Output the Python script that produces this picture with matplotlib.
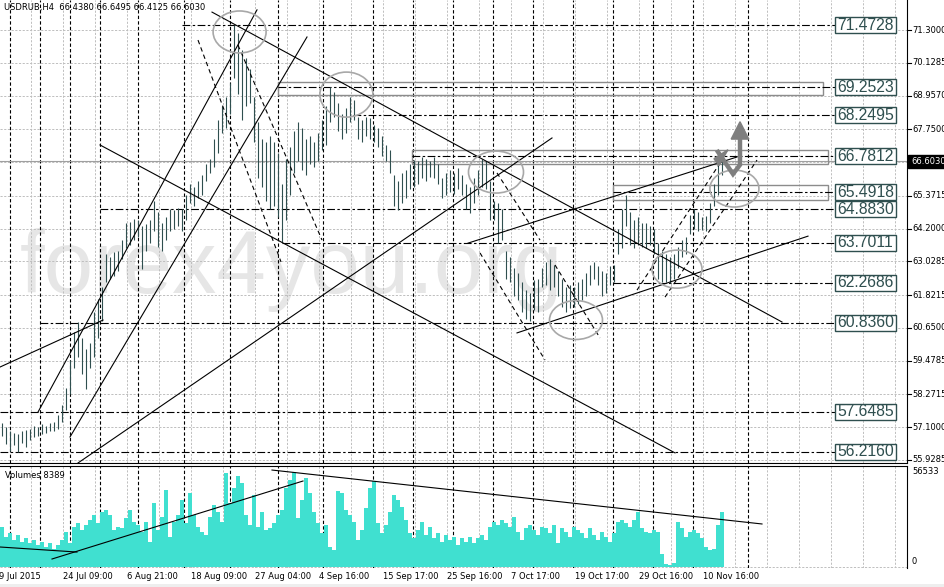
import matplotlib
matplotlib.use('Agg')
import matplotlib.pyplot as plt
from matplotlib.patches import Rectangle, Ellipse, Polygon
from matplotlib import font_manager
import matplotlib.transforms as mtransforms

# ---------------- data (bar index -> high / low / volume) ----------------
highs = [57.25, 57.10, 56.95, 56.90, 56.85, 56.95, 57.00, 57.05, 57.15, 57.10,
         57.20, 57.15, 57.25, 57.30, 57.55, 57.90, 58.50, 59.50, 60.50, 60.85,
         60.30, 59.90, 60.10, 61.20, 61.70, 62.10, 63.30, 63.20, 63.35, 63.40,
         63.80, 64.40, 64.45, 64.55, 64.50, 64.30, 64.35, 64.50, 65.20, 64.80,
         64.40, 64.60, 64.90, 64.85, 64.95, 64.90, 65.40, 65.80, 65.70, 65.90,
         66.10, 66.50, 66.70, 67.40, 68.10, 68.60, 68.90, 69.40, 71.47, 71.20,
         70.60, 70.30, 69.90, 68.90, 68.00, 67.40, 67.30, 67.50, 67.30, 66.90,
         65.80, 66.70, 67.10, 67.70, 68.00, 67.80, 67.40, 67.50, 67.30, 67.60,
         68.10, 68.60, 69.25, 69.10, 68.70, 68.30, 68.50, 68.90, 68.80, 68.20,
         68.10, 68.20, 68.15, 67.90, 67.80, 67.50, 67.20, 67.00, 66.10, 65.90,
         66.20, 66.30, 66.50, 66.65, 66.60, 66.75, 66.70, 66.60, 66.75, 66.50,
         66.00, 66.20, 66.30, 66.20, 66.35, 66.10, 65.80, 65.70, 66.00, 66.30,
         66.70, 66.60, 65.90, 65.20, 65.10, 64.90, 63.40, 63.20, 62.80, 62.60,
         62.30, 62.00, 61.90, 62.35, 62.40, 62.80, 63.00, 63.10, 62.90, 62.70,
         62.40, 62.10, 62.20, 62.10, 62.30, 62.40, 62.60, 62.90, 63.00, 62.85,
         62.70, 62.60, 62.85, 62.90, 64.20, 64.90, 65.40, 64.80, 64.50, 64.60,
         64.40, 64.40, 64.30, 64.20, 63.70, 63.40, 63.30, 63.20, 63.30, 63.55,
         63.80, 63.90, 64.70, 64.90, 64.80, 64.60, 64.65, 65.10, 65.80, 66.50,
         66.78]
lows = [56.80, 56.50, 56.25, 56.45, 56.22, 56.55, 56.40, 56.65, 56.75, 56.80,
        56.85, 56.90, 56.95, 56.95, 57.05, 57.30, 57.70, 58.30, 59.20, 59.60,
        59.00, 58.45, 59.20, 59.60, 60.30, 60.90, 62.30, 62.40, 62.50, 62.70,
        63.10, 63.50, 63.60, 63.80, 63.90, 62.75, 63.40, 63.70, 64.10, 63.55,
        63.40, 63.80, 64.10, 64.20, 64.30, 64.10, 64.50, 65.10, 65.00, 65.30,
        65.40, 65.90, 66.20, 66.40, 66.90, 67.60, 67.80, 68.30, 69.60, 69.00,
        68.10, 68.60, 68.70, 67.30, 66.00, 65.70, 65.20, 64.90, 65.00, 64.60,
        63.72, 64.50, 65.40, 66.20, 66.60, 66.30, 66.10, 66.50, 66.40, 66.60,
        67.00, 67.20, 68.00, 68.20, 67.70, 67.40, 67.60, 68.00, 68.10, 67.40,
        67.30, 67.50, 67.40, 67.30, 67.10, 66.80, 66.60, 66.20, 65.00, 64.86,
        65.10, 65.30, 65.60, 65.70, 65.80, 66.00, 65.90, 66.05, 66.00, 65.80,
        65.30, 65.40, 65.50, 65.45, 65.60, 65.40, 64.90, 64.75, 65.10, 65.40,
        65.70, 65.60, 64.50, 64.50, 63.70, 63.80, 62.40, 62.30, 61.80, 61.65,
        61.20, 60.95, 60.90, 61.30, 61.20, 62.10, 62.20, 62.00, 62.10, 61.80,
        61.40, 61.20, 61.35, 61.40, 61.50, 61.65, 61.80, 62.20, 62.40, 62.20,
        61.80, 61.90, 62.20, 62.30, 63.30, 63.50, 64.30, 63.60, 63.50, 63.60,
        63.55, 63.50, 63.60, 63.30, 62.40, 62.30, 62.30, 62.27, 62.40, 62.80,
        63.20, 63.30, 64.00, 64.20, 64.10, 64.15, 64.10, 64.40, 65.00, 65.40,
        66.10]
volumes = [24000, 18000, 20000, 16000, 19000, 15000, 17000, 14000, 16000, 13000,
           15000, 12000, 14000, 11000, 13000, 16000, 21000, 14000, 24000, 26000,
           22000, 25000, 28000, 31000, 26000, 33000, 34000, 31000, 22000, 24000,
           23000, 29000, 34000, 27000, 25000, 21000, 27000, 15000, 38000, 22000,
           30000, 46000, 18000, 27000, 31000, 40000, 26000, 44000, 31000, 24000,
           21000, 19000, 30000, 37000, 33000, 27000, 56000, 38000, 47000, 54000,
           50000, 31000, 25000, 43000, 24000, 33000, 22000, 23000, 26000, 31000,
           34000, 47000, 52000, 56533, 29000, 40000, 53000, 44000, 33000, 26000,
           20000, 25000, 12000, 10000, 45000, 44000, 34000, 31000, 27000, 16000,
           22000, 35000, 47000, 51000, 26000, 20000, 25000, 33000, 43000, 40000,
           36000, 28000, 20000, 17000, 22000, 27000, 19000, 24000, 17000, 20000,
           15000, 19000, 16000, 18000, 13000, 17000, 15000, 18000, 14000, 17000,
           19000, 16000, 24000, 27000, 25000, 28000, 26000, 24000, 30000, 21000,
           16000, 23000, 25000, 22000, 19000, 24000, 23000, 20000, 25000, 14000,
           23000, 21000, 18000, 24000, 22000, 20000, 17000, 23000, 19000, 16000,
           21000, 18000, 15000, 20000, 27000, 28000, 26000, 24000, 28000, 33000,
           23000, 21000, 20000, 22000, 21000, 8000, 1500, 1000, 2500, 27000,
           23000, 18000, 21000, 22000, 20000, 17000, 12000, 10000, 11000, 25000,
           33000]

symbol_text = "USDRUB,H4  66.4380 66.6495 66.4125 66.6030"
volume_text = "Volumes 8389"
last_price = 66.6030
vol_max_label = 56533

price_ticks = [71.3000, 70.1285, 68.9570, 67.7500, 66.5785, 65.3715, 64.2000,
               63.0285, 61.8215, 60.6500, 59.4785, 58.2715, 57.1000, 55.9285]

time_labels = ["9 Jul 2015", "24 Jul 09:00", "6 Aug 21:00", "18 Aug 09:00",
               "27 Aug 04:00", "4 Sep 16:00", "15 Sep 17:00", "25 Sep 16:00",
               "7 Oct 17:00", "19 Oct 17:00", "29 Oct 16:00", "10 Nov 16:00"]
time_label_bars = [-0.75, 15.25, 31.25, 47.25, 63.25, 79.25, 95.25, 111.25,
                   127.25, 143.25, 159.25, 175.25]

week_separators = [2, 9.5, 17, 24.5, 34, 45.5, 57, 69, 80.25, 92.75, 102.75,
                   112.75, 122.75, 132.75, 142.75, 152.75, 162.75, 172.75, 186.5]

# horizontal levels: (price, start bar)
levels = [(71.4728, 45), (69.2523, 69), (68.2495, 87.75), (66.7812, 102.5),
          (65.4918, 152.75), (64.8830, 24.5), (63.7011, 70), (62.2686, 152.75),
          (60.8360, 9.5), (57.6485, -0.5), (56.2160, -0.5)]
level_end = 208.25

# zone rectangles: (bar0, bar1, price_low, price_high)
zones = [(69, 205.25, 68.98, 69.44), (102.5, 206.5, 66.51, 67.01),
         (152.75, 206.5, 65.22, 65.76)]

# solid trend lines ((bar, price), (bar, price))
trend_lines = [((-0.5, 59.25), (25.25, 60.93)),
               ((9, 57.64), (63.75, 72.02)),
               ((17, 56.75), (76.25, 71.05)),
               ((19, 55.82), (137.5, 67.44)),
               ((24.5, 67.19), (168.25, 56.18)),
               ((52.5, 71.94), (195, 60.86)),
               ((116.5, 63.68), (183.75, 66.76)),
               ((128.75, 60.47), (201.5, 63.93))]
# dashed trend lines
dashed_lines = [((49, 70.94), (69.75, 63.01)),
                ((59, 70.76), (80, 63.79)),
                ((119.5, 63.33), (135.75, 59.50)),
                ((123.75, 66.19), (134.5, 63.79)),
                ((138.25, 62.90), (149.5, 60.29)),
                ((158.75, 62.00), (180, 66.65)),
                ((165.75, 61.75), (188.75, 66.65))]
# ellipses: (bar center, price center, width bars, height price)
ellipses = [(59.4, 71.23, 13.25, 1.50), (86.1, 68.99, 13.25, 1.61),
            (123.5, 66.22, 13.75, 1.50), (143.5, 60.93, 13.25, 1.39),
            (168.75, 62.75, 12.5, 1.36), (183.1, 65.63, 12.25, 1.32)]
# volume trend lines
vol_lines = [((-0.5, 11900), (18.75, 8900)),
             ((12.5, 4760), (75.25, 51170)),
             ((67.5, 57700), (190, 25600))]
# gray arrow path
arrow_path = [(179, 66.94), (182.75, 66.15), (184.5, 66.48), (184.5, 67.44)]

# ---------------- figure ----------------
W, H = 945, 587
fig = plt.figure(figsize=(W / 100, H / 100), dpi=100)
fig.patch.set_facecolor('white')

PR = 907  # right edge of plot area (px)
ax = fig.add_axes([0, (H - 463) / H, PR / W, 463 / H])
axv = fig.add_axes([0, 19 / H, PR / W, 102 / H])

xlim = (-0.5, (PR - 2) / 4)
ax.set_xlim(*xlim)
ax.set_ylim(71.3 - 433 / 27.97, 71.3 + 30 / 27.97)
axv.set_xlim(*xlim)
axv.set_ylim(-595, 60103)

for a in (ax, axv):
    a.set_xticks([])
    a.set_yticks([])
    for s in ('left', 'top', 'bottom'):
        a.spines[s].set_visible(False)
    a.spines['right'].set_linewidth(0.8)
ax.spines['bottom'].set_visible(True)
ax.spines['bottom'].set_linewidth(0.8)
axv.spines['top'].set_visible(True)
axv.spines['top'].set_linewidth(0.8)

names = {f.name for f in font_manager.fontManager.ttflist}
if 'Liberation Sans Narrow' in names:
    box_font, box_size = 'Liberation Sans Narrow', 13.5
else:
    box_font, box_size = 'Liberation Sans', 11.3

DSG = '#2F4F4F'
GRID = '#BEBEBE'
grid_ls = (0, (2.2, 1.6))
sep_ls = (0, (3.0, 2.0))
dd_ls = (0, (7, 2.2, 2.2, 2.2))

# watermark
ax.text(4.5, 61.9, "forex4you.org", fontsize=64, family='Liberation Sans',
        color='#E6E6E6', ha='left', va='baseline', zorder=0)

# gray grid
grid_bars = [7.25 + 8 * k for k in range(28)]
for a in (ax, axv):
    for g in grid_bars:
        a.axvline(g, color=GRID, lw=0.7, ls=grid_ls, zorder=1)
    for s in week_separators:
        a.axvline(s, color='black', lw=0.8, ls=sep_ls, zorder=2)
for p in price_ticks:
    ax.axhline(p, color=GRID, lw=0.7, ls=grid_ls, zorder=1)
axv.axhline(0, color=GRID, lw=0.7, ls=grid_ls, zorder=1)

# bid line
ax.axhline(last_price, color='#A0A0A0', lw=0.8, zorder=2)

# zones
for b0, b1, p0, p1 in zones:
    ax.add_patch(Rectangle((b0, p0), b1 - b0, p1 - p0, fill=False,
                           ec='#8C8C8C', lw=1.0, zorder=3))

# levels + boxed labels
bh = 8 / 27.97
for p, b0 in levels:
    ax.plot([b0, level_end], [p, p], color='black', lw=0.8, ls=dd_ls, zorder=3)
    ax.add_patch(Rectangle((level_end, p - bh), 15.25, 2 * bh, fc='white',
                           ec=DSG, lw=1.0, zorder=7, clip_on=False))
    ax.text(level_end + 7.6, p, f"{p:.4f}", family=box_font, fontsize=box_size,
            color=DSG, ha='center', va='center', zorder=8)

# price bars
idx = list(range(len(highs)))
ax.vlines(idx, lows, highs, color=DSG, lw=0.8, zorder=4)

# trend lines
for (x0, y0), (x1, y1) in trend_lines:
    ax.plot([x0, x1], [y0, y1], color='black', lw=0.8, zorder=5)
for (x0, y0), (x1, y1) in dashed_lines:
    ax.plot([x0, x1], [y0, y1], color='black', lw=0.8, ls=(0, (4, 3)), zorder=5)
for cx, cy, w, h in ellipses:
    ax.add_patch(Ellipse((cx, cy), w, h, fill=False, ec='#A8A8A8', lw=1.2, zorder=6))

# gray arrow
ax.plot([q[0] for q in arrow_path], [q[1] for q in arrow_path], color='#7F7F7F',
        lw=3.2, solid_joinstyle='miter', zorder=6)
ax.add_patch(Polygon([(182.3, 67.40), (186.7, 67.40), (184.5, 68.02)],
                     closed=True, fc='#7F7F7F', ec='#7F7F7F', zorder=6))
ax.add_patch(Polygon([(178.0, 66.70), (181.5, 67.02), (179.2, 66.45)],
                     closed=True, fc='#7F7F7F', ec='#7F7F7F', zorder=6))

# right price axis labels
bt = mtransforms.blended_transform_factory(ax.transAxes, ax.transData)
for p in price_ticks:
    if abs(p - last_price) < 0.1:
        continue
    ax.plot([1.0, 4 / PR + 1.0], [p, p], color='black', lw=0.8, transform=bt,
            clip_on=False)
    ax.text(1 + 5 / PR, p, f"{p:.4f}", transform=bt, fontsize=6, ha='left',
            va='center', color='black')
ax.add_patch(Rectangle((1 + 1 / PR, last_price - 6.5 / 27.97), 40 / PR,
                       13 / 27.97, transform=bt, fc='black', ec='black',
                       clip_on=False, zorder=8))
ax.text(1 + 4 / PR, last_price, f"{last_price:.4f}", transform=bt, fontsize=6,
        ha='left', va='center', color='white', zorder=9)

# volumes
axv.bar(idx, volumes, width=0.8, color='#40E0D0', lw=0, zorder=3)
for (x0, y0), (x1, y1) in vol_lines:
    axv.plot([x0, x1], [y0, y1], color='black', lw=0.8, zorder=5)
btv = mtransforms.blended_transform_factory(axv.transAxes, axv.transData)
axv.text(1 + 5 / PR, vol_max_label, f"{vol_max_label}", transform=btv,
         fontsize=6, ha='left', va='center')
axv.text(1 + 5 / PR, 3000, "0", transform=btv, fontsize=6, ha='left', va='center')

# time labels
btx = mtransforms.blended_transform_factory(axv.transData, axv.transAxes)
for b, lab in zip(time_label_bars, time_labels):
    axv.text(b, -0.085, lab, transform=btx, fontsize=6, ha='left', va='center',
             clip_on=False)

fig.text(4 / W, 1 - 7.5 / H, symbol_text, fontsize=6, ha='left', va='center')
fig.text(5 / W, 1 - 475 / H, volume_text, fontsize=6, ha='left', va='center')
fig.patches.append(Rectangle((0, 0), 1, 3 / H, transform=fig.transFigure,
                             fc='#EEEEEE', ec='none'))

fig.savefig('out.png', dpi=100)
